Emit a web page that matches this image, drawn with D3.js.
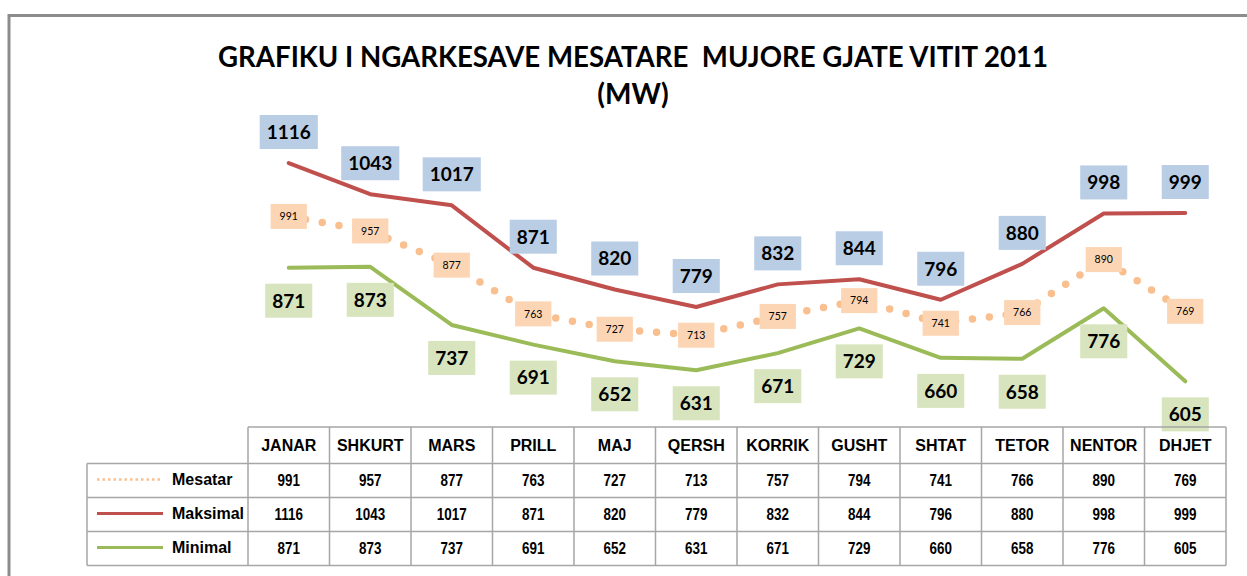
<!DOCTYPE html>
<html>
<head>
<meta charset="utf-8">
<script src="https://cdn.jsdelivr.net/npm/d3@7"></script>
<style>
  body { margin: 0; background: #fff; }
  svg { display: block; }
</style>
</head>
<body>
<svg id="chart" width="1247" height="576"></svg>
<script>

// data
let months = ["JANAR", "SHKURT", "MARS", "PRILL", "MAJ", "QERSH", "KORRIK", "GUSHT", "SHTAT", "TETOR", "NENTOR", "DHJET"]
let mesatar = [991, 957, 877, 763, 727, 713, 757, 794, 741, 766, 890, 769]
let maksimal = [1116, 1043, 1017, 871, 820, 779, 832, 844, 796, 880, 998, 999]
let minimal = [871, 873, 737, 691, 652, 631, 671, 729, 660, 658, 776, 605]
let seriesNames = ["Mesatar", "Maksimal", "Minimal"]

let title1 = "GRAFIKU I NGARKESAVE MESATARE  MUJORE GJATE VITIT 2011"
let title2 = "(MW)"

let svg = d3.select("#chart")

// outer frame (only top and left edges visible)
svg.append("rect")
    .attr("x", 9).attr("y", 15.5)
    .attr("width", 1300).attr("height", 700)
    .attr("fill", "none")
    .attr("stroke", "#8c8c8c")
    .attr("stroke-width", 3)

// title
svg.append("text")
    .attr("x", 633).attr("y", 67)
    .attr("text-anchor", "middle")
    .attr("textLength", 830)
    .attr("lengthAdjust", "spacingAndGlyphs")
    .style("white-space", "pre")
    .style("font-family", "Lato, 'Open Sans', sans-serif")
    .style("font-weight", "bold")
    .style("font-size", "28px")
    .attr("fill", "#000")
    .text(title1)

svg.append("text")
    .attr("x", 633).attr("y", 104)
    .attr("text-anchor", "middle")
    .style("font-family", "Lato, 'Open Sans', sans-serif")
    .style("font-weight", "bold")
    .style("font-size", "28px")
    .attr("fill", "#000")
    .text(title2)

let xScale = d3.scaleBand()
    .domain(months)
    .range([248, 1226])

let yScale = d3.scaleLinear()
    .domain([600, 1150])
    .range([383.5, 148.5])

let cx = m => xScale(m) + xScale.bandwidth() / 2

let line = d3.line()
    .x((d, i) => cx(months[i]))
    .y(d => yScale(d))

let series = [
    {name: "Mesatar", values: mesatar, color: "#f9bf8f", width: 7.5, dash: "0 17", box: "#fcd5b5", fs: 10.5, weight: "normal", pos: "center"},
    {name: "Maksimal", values: maksimal, color: "#c0504d", width: 4, dash: null, box: "#b9cde5", fs: 19, weight: "bold", pos: "above"},
    {name: "Minimal", values: minimal, color: "#9bbb59", width: 4, dash: null, box: "#d7e4bd", fs: 19, weight: "bold", pos: "below"}
]

// lines
for(let s of series){
    svg.append("path")
        .datum(s.values)
        .attr("d", line)
        .attr("fill", "none")
        .attr("stroke", s.color)
        .attr("stroke-width", s.width)
        .attr("stroke-linecap", "round")
        .attr("stroke-linejoin", "round")
        .attr("stroke-dasharray", s.dash)
}

// data labels
for(let s of series){
    let g = svg.append("g")
    s.values.forEach((v, i) => {
        let x = cx(months[i])
        let y = yScale(v)
        if(s.pos == "above") y -= 31
        if(s.pos == "below") y += 33
        let lg = g.append("g")
        let rect = lg.append("rect").attr("fill", s.box)
        let t = lg.append("text")
            .attr("x", x).attr("y", y)
            .attr("text-anchor", "middle")
            .attr("dy", "0.36em")
            .style("font-family", "Lato, 'Open Sans', sans-serif")
            .style("font-weight", s.weight)
            .style("font-size", s.fs + "px")
            .attr("fill", "#000")
            .text(v)
        let w = t.node().getComputedTextLength()
        let padX = s.pos == "center" ? 9 : 7
        let h = s.pos == "center" ? 25 : 34
        rect.attr("x", x - w / 2 - padX).attr("y", y - h / 2)
            .attr("width", w + padX * 2).attr("height", h)
    })
}

// data table
let tableTop = 427
let headerBottom = 463.5
let rowH = 34
let legendLeft = 87
let tableRight = 1226
let gridColor = "#a6a6a6"
let table = svg.append("g")

let rowsData = [mesatar, maksimal, minimal]

// horizontal lines
table.append("line")
    .attr("x1", 248).attr("x2", tableRight)
    .attr("y1", tableTop).attr("y2", tableTop)
for(let r = 0; r <= 3; r++){
    let y = headerBottom + r * rowH
    table.append("line")
        .attr("x1", legendLeft).attr("x2", tableRight)
        .attr("y1", y).attr("y2", y)
}
// vertical lines
table.append("line")
    .attr("x1", legendLeft).attr("x2", legendLeft)
    .attr("y1", headerBottom).attr("y2", headerBottom + 3 * rowH)
for(let i = 0; i <= months.length; i++){
    let x = i < months.length ? xScale(months[i]) : tableRight
    table.append("line")
        .attr("x1", x).attr("x2", x)
        .attr("y1", tableTop).attr("y2", headerBottom + 3 * rowH)
}
table.selectAll("line")
    .attr("stroke", gridColor)
    .attr("stroke-width", 1.5)

// header
table.selectAll(".hdr")
    .data(months)
    .enter()
    .append("text")
    .attr("class", "hdr")
    .attr("x", d => cx(d))
    .attr("y", (tableTop + headerBottom) / 2)
    .attr("dy", "0.36em")
    .attr("text-anchor", "middle")
    .style("font-family", "'Liberation Sans', Arial, sans-serif")
    .style("font-weight", "bold")
    .style("font-size", "16px")
    .text(d => d)

// rows (digits look condensed in the original)
rowsData.forEach((vals, r) => {
    let yMid = headerBottom + r * rowH + rowH / 2
    vals.forEach((v, i) => {
        table.append("text")
            .attr("transform", `translate(${cx(months[i])},${yMid}) scale(0.84,1)`)
            .attr("dy", "0.36em")
            .attr("text-anchor", "middle")
            .style("font-family", "'Liberation Sans', Arial, sans-serif")
            .style("font-weight", "bold")
            .style("font-size", "16px")
            .text(v)
    })
    let s = series[r]
    table.append("line")
        .attr("x1", 97).attr("x2", 163)
        .attr("y1", yMid - 1).attr("y2", yMid - 1)
        .attr("stroke", s.color)
        .attr("stroke-width", r == 0 ? 2.5 : 3)
        .attr("stroke-dasharray", r == 0 ? "2.5 3" : null)
    table.append("text")
        .attr("x", 172)
        .attr("y", yMid - 1)
        .attr("dy", "0.36em")
        .style("font-family", "'Liberation Sans', Arial, sans-serif")
        .style("font-weight", "bold")
        .style("font-size", "16px")
        .text(seriesNames[r])
})

</script>
</body>
</html>
